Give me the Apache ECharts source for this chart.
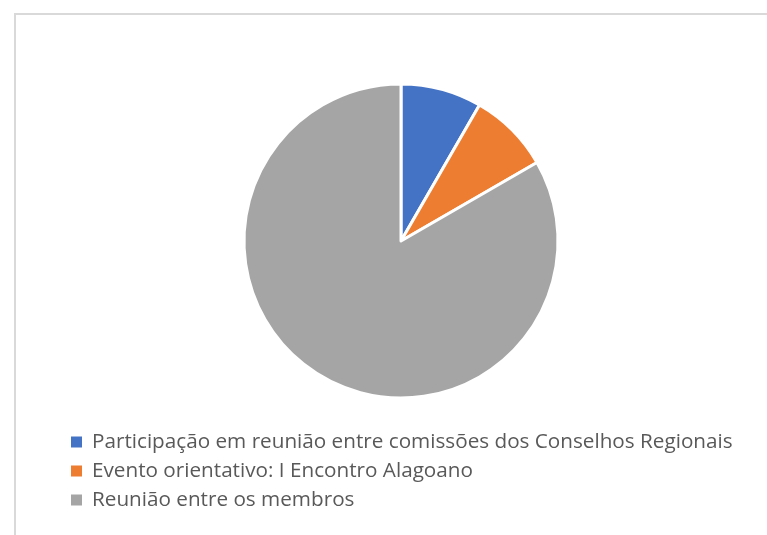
<!DOCTYPE html>
<html><head><meta charset="utf-8">
<script src="https://cdn.jsdelivr.net/npm/echarts@6/dist/echarts.min.js"></script>
<style>html,body{margin:0;padding:0;background:#fff}#c{width:767px;height:535px}</style>
</head><body><div id="c"></div>
<script>
const categories = [
  "Participação em reunião entre comissões dos Conselhos Regionais",
  "Evento orientativo: I Encontro Alagoano",
  "Reunião entre os membros"
];
const values = [1, 1, 10];
const colors = ["#4472C4", "#ED7D31", "#A5A5A5"];

const chart = echarts.init(document.getElementById('c'));
chart.setOption({
  animation: false,
  backgroundColor: '#ffffff',
  color: colors,
  graphic: [{
    type: 'rect', silent: true,
    shape: { x: 15, y: 14, width: 800, height: 600 },
    style: { fill: 'none', stroke: '#d9d9d9', lineWidth: 2 }
  }],
  legend: {
    orient: 'vertical', left: 64, top: 426,
    itemWidth: 13, itemHeight: 13, itemGap: 7,
    icon: 'rect',
    textStyle: { fontFamily: 'Open Sans', fontSize: 20.7, color: '#595959', lineHeight: 22, padding: [0,0,0,4] },
    data: categories
  },
  series: [{
    type: 'pie', center: [401, 241], radius: 157,
    startAngle: 90, clockwise: true,
    label: { show: false }, labelLine: { show: false },
    itemStyle: { borderColor: '#ffffff', borderWidth: 3 },
    emphasis: { disabled: true },
    data: categories.map((n, i) => ({ name: n, value: values[i] }))
  }]
});
</script></body></html>
